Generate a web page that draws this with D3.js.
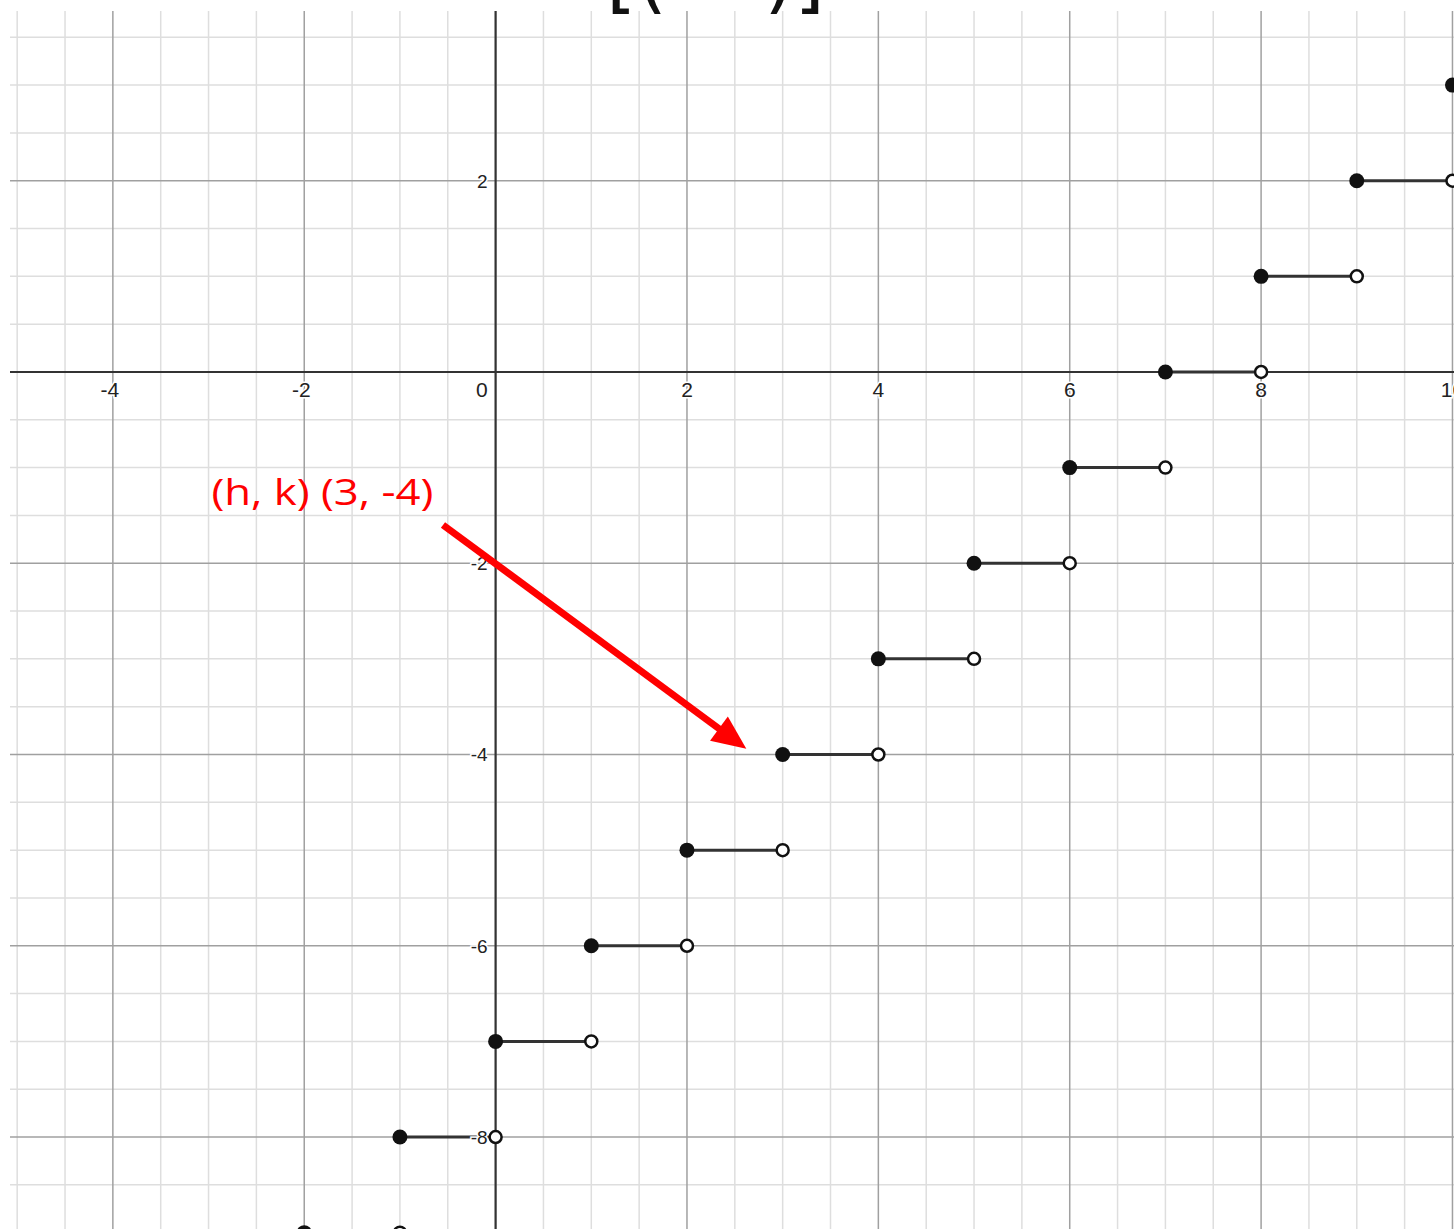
<!DOCTYPE html>
<html><head><meta charset="utf-8">
<script src="https://cdn.jsdelivr.net/npm/d3@7"></script>
<style>html,body{margin:0;padding:0;background:#fff;overflow:hidden}</style>
</head><body>
<script>
// step function f(x) = floor(x - 3) - 4 : each step [start, start+1) at level
const stepStarts = [-3,-2,-1,0,1,2,3,4,5,6,7,8,9,10];
const stepLevels = [-10,-9,-8,-7,-6,-5,-4,-3,-2,-1,0,1,2,3];
const xTickLabels = [-4,-2,0,2,4,6,8,10];
const yTickLabels = [2,-2,-4,-6,-8];
const annotationText = "(h, k) (3, -4)";
const annotationTextPos = [-2.97, -1.39];
const arrowFrom = [-0.55, -1.6];
const arrowTo = [2.62, -3.94];

const W = 1454, H = 1229;
const x = d3.scaleLinear().domain([-5.075, 10.016]).range([10, 1454]);
const y = d3.scaleLinear().domain([3.775, -8.962]).range([11, 1229]);

const svg = d3.select("body").append("svg").attr("width", W).attr("height", H);

svg.append("defs").append("clipPath").attr("id","c").append("rect")
  .attr("x",10).attr("y",11).attr("width",W-10).attr("height",H-11);
const plot = svg.append("g").attr("clip-path","url(#c)");

// grid
const xs = d3.range(-5, 10.51, 0.5), ys = d3.range(-9, 3.51, 0.5);
const isMajor = v => Math.abs(v % 2) < 1e-9 && v !== 0;
plot.append("g").selectAll("line").data(xs.filter(v=>!isMajor(v))).join("line")
  .attr("x1", d=>x(d)).attr("x2", d=>x(d)).attr("y1", 11).attr("y2", H)
  .attr("stroke", "#dedede").attr("stroke-width", 1.5);
plot.append("g").selectAll("line").data(ys.filter(v=>!isMajor(v))).join("line")
  .attr("y1", d=>y(d)).attr("y2", d=>y(d)).attr("x1", 10).attr("x2", W)
  .attr("stroke", "#dedede").attr("stroke-width", 1.5);
plot.append("g").selectAll("line").data(xs.filter(isMajor)).join("line")
  .attr("x1", d=>x(d)).attr("x2", d=>x(d)).attr("y1", 11).attr("y2", H)
  .attr("stroke", "#a0a0a0").attr("stroke-width", 1.5);
plot.append("g").selectAll("line").data(ys.filter(isMajor)).join("line")
  .attr("y1", d=>y(d)).attr("y2", d=>y(d)).attr("x1", 10).attr("x2", W)
  .attr("stroke", "#a0a0a0").attr("stroke-width", 1.5);

// axes
plot.append("line").attr("x1",10).attr("x2",W).attr("y1",y(0)).attr("y2",y(0))
  .attr("stroke","#333").attr("stroke-width",2.2);
plot.append("line").attr("x1",x(0)).attr("x2",x(0)).attr("y1",11).attr("y2",H)
  .attr("stroke","#333").attr("stroke-width",2.2);

// tick labels
const lab = svg.append("g").attr("font-family","'Liberation Sans', Arial, sans-serif")
  .attr("fill","#222");
lab.selectAll("text.xl").data(xTickLabels).join("text").attr("class","xl")
  .attr("font-size", 21)
  .attr("x", d => d===0 ? x(0)-8 : (d < 0 ? x(d)-3 : x(d)))
  .attr("y", y(0)+25)
  .attr("text-anchor", d => d===0 ? "end" : "middle")
  .attr("paint-order","stroke").attr("stroke","#fff").attr("stroke-width",3)
  .text(d=>d);
lab.selectAll("text.yl").data(yTickLabels).join("text").attr("class","yl")
  .attr("font-size", 19)
  .attr("x", x(0)-8).attr("y", d=>y(d)+7)
  .attr("text-anchor","end")
  .attr("paint-order","stroke").attr("stroke","#fff").attr("stroke-width",3)
  .text(d=>d);

// steps
const steps = stepStarts.map((s,i)=>({s, v: stepLevels[i]}));
plot.append("g").selectAll("line").data(steps).join("line")
  .attr("x1", d=>x(d.s)).attr("x2", d=>x(d.s+1))
  .attr("y1", d=>y(d.v)).attr("y2", d=>y(d.v))
  .attr("stroke","#333").attr("stroke-width",3);
plot.append("g").selectAll("circle").data(steps).join("circle")
  .attr("cx", d=>x(d.s+1)).attr("cy", d=>y(d.v)).attr("r",6)
  .attr("fill","#fff").attr("stroke","#111").attr("stroke-width",2.5);
plot.append("g").selectAll("circle").data(steps).join("circle")
  .attr("cx", d=>x(d.s)).attr("cy", d=>y(d.v)).attr("r",7.5)
  .attr("fill","#111");

// cropped formula brackets at top
const formula = svg.append("g").attr("font-family","'DejaVu Sans', sans-serif")
  .attr("font-size",78).attr("fill","#111");
formula.append("text").attr("x",606).attr("y",4).text("[(");
formula.append("text").attr("x",825).attr("y",4).attr("text-anchor","end").text(")]");

// annotation
const ax1 = x(arrowFrom[0]), ay1 = y(arrowFrom[1]), ax2 = x(arrowTo[0]), ay2 = y(arrowTo[1]);
const ang = Math.atan2(ay2-ay1, ax2-ax1);
const headLen = 34, headHalf = 15;
const bx = ax2 - headLen*Math.cos(ang), by = ay2 - headLen*Math.sin(ang);
svg.append("line").attr("x1",ax1).attr("y1",ay1).attr("x2",bx+4*Math.cos(ang)).attr("y2",by+4*Math.sin(ang))
  .attr("stroke","#f00").attr("stroke-width",7);
svg.append("polygon").attr("fill","#f00").attr("points", [
  [ax2, ay2],
  [bx + headHalf*Math.sin(ang), by - headHalf*Math.cos(ang)],
  [bx - headHalf*Math.sin(ang), by + headHalf*Math.cos(ang)]
].map(p=>p.join(",")).join(" "));
svg.append("text").attr("x", x(annotationTextPos[0])).attr("y", y(annotationTextPos[1]))
  .attr("font-family","'Open Sans', sans-serif").attr("font-size",36).attr("fill","#f00")
  .attr("textLength", 222).attr("lengthAdjust","spacingAndGlyphs")
  .text(annotationText);
</script>
</body></html>
